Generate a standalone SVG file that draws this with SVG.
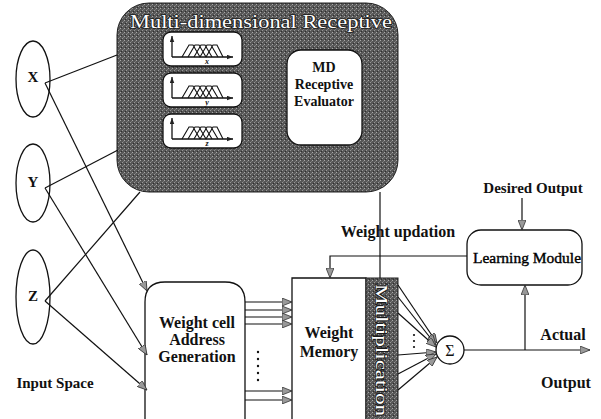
<svg xmlns="http://www.w3.org/2000/svg" width="601" height="419" viewBox="0 0 601 419">
<defs>
<pattern id="hatch" width="4" height="4" patternUnits="userSpaceOnUse">
<rect width="4" height="4" fill="#575757"/>
<rect x="0" y="0" width="1" height="1" fill="#a8a8a8"/>
<rect x="2" y="2" width="1" height="1" fill="#989898"/>
<rect x="3" y="1" width="1" height="1" fill="#777"/>
<rect x="1" y="3" width="1" height="1" fill="#2e2e2e"/>
</pattern>
<marker id="arr" viewBox="0 0 10 8" refX="10" refY="4" markerWidth="10" markerHeight="8" markerUnits="userSpaceOnUse" orient="auto">
<path d="M0,0 L10,4 L0,8 Z" fill="#999" stroke="#333" stroke-width="0.8"/>
</marker>
<marker id="sarr" viewBox="0 0 8 6" refX="8" refY="3" markerWidth="6" markerHeight="5" markerUnits="userSpaceOnUse" orient="auto">
<path d="M0,0 L8,3 L0,6 Z" fill="#222"/>
</marker>
<g id="mf">
<path d="M9,25 V4" fill="none" stroke="#111" stroke-width="1.3" marker-end="url(#sarr)"/>
<path d="M9,25 H70" fill="none" stroke="#111" stroke-width="1.3" marker-end="url(#sarr)"/>
<path d="M19,25 L26,13 L30,13 L37,25 M25,25 L32,13 L36,13 L43,25 M31,25 L38,13 L42,13 L49,25 M37,25 L44,13 L48,13 L55,25 M43,25 L50,13 L54,13 L60,25" fill="none" stroke="#111" stroke-width="1.1"/>
</g>
</defs>
<style>
.ln{fill:none;stroke:#111;stroke-width:1.2}
.box{fill:#fff;stroke:#111;stroke-width:1.3}
.serif{font-family:"Liberation Serif",serif;fill:#111}
.wt{font-family:"Liberation Serif",serif;fill:#fff;stroke:#1a1a1a;stroke-width:1.6;paint-order:stroke}
.lbl{font-family:"Liberation Serif",serif;font-size:15px;font-weight:bold;fill:#111;text-anchor:middle}
</style>

<g id="receptive">
<rect x="117" y="3" width="281" height="189" rx="32" fill="url(#hatch)" stroke="#222" stroke-width="1"/>
<text x="261" y="28" class="wt" font-size="18" text-anchor="middle" textLength="262" lengthAdjust="spacingAndGlyphs">Multi-dimensional Receptive</text>
</g>
<g id="mf-x">
<rect x="163" y="32" width="79" height="34" rx="8" class="box"/>
<use href="#mf" x="163" y="32"/>
<text x="207" y="64" class="serif" font-size="8" font-style="italic" font-weight="bold" text-anchor="middle">x</text>
</g>
<g id="mf-y">
<rect x="163" y="73" width="79" height="34" rx="8" class="box"/>
<use href="#mf" x="163" y="73"/>
<text x="207" y="105" class="serif" font-size="8" font-style="italic" font-weight="bold" text-anchor="middle">y</text>
</g>
<g id="mf-z">
<rect x="163" y="114" width="79" height="34" rx="8" class="box"/>
<use href="#mf" x="163" y="114"/>
<text x="207" y="146" class="serif" font-size="8" font-style="italic" font-weight="bold" text-anchor="middle">z</text>
</g>
<g id="md-evaluator">
<rect x="287" y="50" width="75" height="95" rx="14" class="box"/>
<text x="324" y="72" class="serif" font-size="14" font-weight="bold" text-anchor="middle">MD</text>
<text x="324" y="89" class="serif" font-size="14" font-weight="bold" text-anchor="middle">Receptive</text>
<text x="324" y="106" class="serif" font-size="14" font-weight="bold" text-anchor="middle">Evaluator</text>
</g>

<g id="input-x">
<ellipse cx="33" cy="79" rx="17" ry="38" class="box"/>
<text x="33" y="82" class="lbl" font-size="16">X</text>
</g>
<g id="input-y">
<ellipse cx="33" cy="183" rx="17" ry="39" class="box"/>
<text x="33" y="187" class="lbl" font-size="16">Y</text>
</g>
<g id="input-z">
<ellipse cx="33" cy="297" rx="17" ry="47" class="box"/>
<text x="33" y="301" class="lbl" font-size="16">Z</text>
</g>
<text x="55" y="388" class="lbl">Input Space</text>

<g id="address">
<path d="M245,419 V302 Q245,282 225,282 H165 Q145,282 145,302 V419" class="box"/>
<text x="197" y="328" class="serif" font-size="16" font-weight="bold" text-anchor="middle">Weight cell</text>
<text x="197" y="345" class="serif" font-size="16" font-weight="bold" text-anchor="middle">Address</text>
<text x="197" y="362" class="serif" font-size="16" font-weight="bold" text-anchor="middle">Generation</text>
</g>
<g id="memory">
<path d="M292,419 V278 H366 V419" class="box"/>
<text x="329" y="338" class="serif" font-size="16" font-weight="bold" text-anchor="middle">Weight</text>
<text x="329" y="357" class="serif" font-size="16" font-weight="bold" text-anchor="middle">Memory</text>
</g>
<g id="multiplication">
<rect x="366" y="278" width="32" height="143" fill="url(#hatch)" stroke="#222" stroke-width="1"/>
<text transform="translate(376,350) rotate(90)" class="wt" font-size="16" text-anchor="middle" textLength="132" lengthAdjust="spacingAndGlyphs">Multiplication</text>
</g>
<g id="sum">
<circle cx="450" cy="350" r="14" class="box"/>
<text x="450" y="356" class="serif" font-size="16" text-anchor="middle">Σ</text>
</g>
<g id="learning">
<rect x="467" y="230" width="115" height="55" rx="14" class="box"/>
<text x="527" y="263" class="serif" font-size="15.5" text-anchor="middle" style="fill:#000;stroke:#000;stroke-width:0.4">Learning Module</text>
</g>
<text x="533" y="193" class="serif" font-size="15" font-weight="bold" text-anchor="middle">Desired Output</text>
<text x="398" y="237" class="serif" font-size="16" font-weight="bold" text-anchor="middle">Weight updation</text>
<text x="563" y="340" class="serif" font-size="16" font-weight="bold" text-anchor="middle">Actual</text>
<text x="566" y="388" class="serif" font-size="16" font-weight="bold" text-anchor="middle">Output</text>

<g id="connectors" class="ln">
<path d="M45,83 L117,55"/>
<path d="M45,83 L147,291" marker-end="url(#arr)"/>
<path d="M45,188 L118,150"/>
<path d="M45,188 L147,355" marker-end="url(#arr)"/>
<path d="M45,301 L140,192"/>
<path d="M45,301 L147,390" marker-end="url(#arr)"/>
<path d="M245,302 H292" marker-end="url(#arr)"/>
<path d="M245,310 H292" marker-end="url(#arr)"/>
<path d="M245,317 H292" marker-end="url(#arr)"/>
<path d="M245,324 H292" marker-end="url(#arr)"/>
<path d="M245,391 H292" marker-end="url(#arr)"/>
<path d="M245,400 H292" marker-end="url(#arr)"/>
<path d="M380,192 V278"/>
<path d="M467,256 H330 V278" marker-end="url(#arr)"/>
<path d="M522,198 V230" marker-end="url(#arr)"/>
<path d="M398,285 L437,343" marker-end="url(#arr)"/>
<path d="M398,297 L436,345" marker-end="url(#arr)"/>
<path d="M398,313 L436,347" marker-end="url(#arr)"/>
<path d="M398,355 L436,352" marker-end="url(#arr)"/>
<path d="M398,374 L436,354" marker-end="url(#arr)"/>
<path d="M398,390 L437,357" marker-end="url(#arr)"/>
<path d="M464,350 H590" marker-end="url(#arr)"/>
<path d="M525,350 V285" marker-end="url(#arr)"/>
</g>
<g id="dots" fill="#111">
<circle cx="258" cy="352" r="1.2"/><circle cx="258" cy="359" r="1.2"/><circle cx="258" cy="366" r="1.2"/><circle cx="258" cy="373" r="1.2"/><circle cx="258" cy="380" r="1.2"/>
<circle cx="414" cy="335" r="1.1"/><circle cx="414" cy="341" r="1.1"/><circle cx="414" cy="347" r="1.1"/>
</g>
</svg>
